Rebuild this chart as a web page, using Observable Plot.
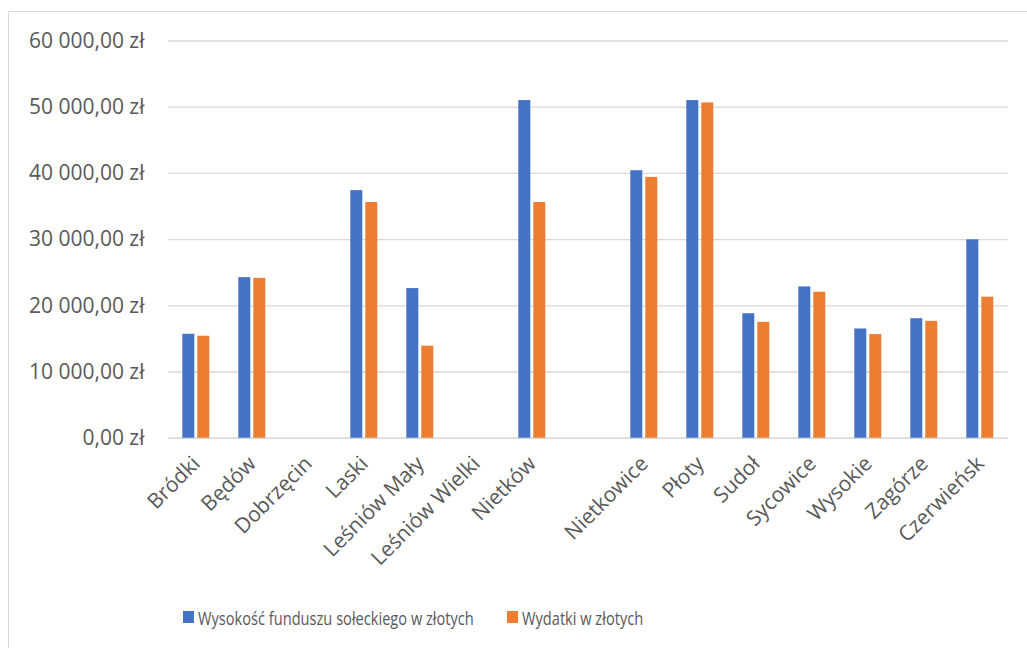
<!DOCTYPE html>
<html><head><meta charset="utf-8">
<script src="https://cdn.jsdelivr.net/npm/d3@7"></script>
<script src="https://cdn.jsdelivr.net/npm/@observablehq/plot@0.6"></script>
<style>
body{margin:0;background:#fff;}
#wrap{position:relative;width:1027px;height:648px;overflow:hidden;font-family:"Open Sans",sans-serif;background:#fff}
#frame{position:absolute;left:8px;top:11px;width:1060px;height:700px;border:1.5px solid #d9d9d9;box-sizing:border-box}
#chart{position:absolute;left:0;top:0}
#legend{position:absolute;top:604px;left:0;height:26px;width:1027px;color:#595959;font-size:18.5px;}
.item{position:absolute;top:0;display:flex;align-items:center;height:26px;white-space:nowrap}
.sw{width:11px;height:12px;margin-right:4px;display:inline-block;flex:none}
.lt{display:inline-block;transform-origin:0 50%;transform:scaleX(0.79)}
</style>
</head><body>
<div id="wrap"><div id="frame"></div><div id="chart"></div><div id="legend"></div></div>
<script>
const categories = ["Bródki","Będów","Dobrzęcin","Laski","Leśniów Mały","Leśniów Wielki","Nietków"," ","Nietkowice","Płoty","Sudoł","Sycowice","Wysokie","Zagórze","Czerwieńsk"];
const fundusz = [15700,24250,0,37400,22600,0,51000,0,40400,51000,18800,22850,16500,18050,29970];
const wydatki = [15400,24150,0,35600,13900,0,35600,0,39400,50650,17500,22050,15650,17650,21300];
const seriesNames = ["Wysokość funduszu sołeckiego w złotych","Wydatki w złotych"];
const seriesColors = ["#4472C4","#ED7D31"];
const yTicks = [0,10000,20000,30000,40000,50000,60000];

const data = categories.flatMap((c,i)=>[
  {category:c, series:seriesNames[0], value:fundusz[i]},
  {category:c, series:seriesNames[1], value:wydatki[i]}
]);
const loc = d3.formatLocale({decimal:",", thousands:"\u00a0", grouping:[3], currency:["","\u00a0zł"]});
const fmt = loc.format("$,.2f");

const chart = Plot.plot({
  width:1027, height:590,
  marginLeft:165.7, marginRight:16, marginTop:40.5, marginBottom:152.3,
  style:{fontFamily:"Open Sans, sans-serif", fontSize:"21px", color:"#595959", background:"transparent", overflow:"visible"},
  fx:{domain:categories, padding:0, label:null, tickRotate:-45, tickSize:0, tickPadding:22},
  x:{domain:seriesNames, paddingInner:0.19, paddingOuter:0.89, axis:null},
  y:{domain:[0,60000], ticks:yTicks, tickFormat:fmt, label:null, tickSize:0, tickPadding:24},
  color:{domain:seriesNames, range:seriesColors},
  marks:[
    Plot.gridY(yTicks,{stroke:"#d9d9d9", strokeOpacity:1, strokeWidth:1.3}),
    Plot.ruleY([0],{stroke:"#d9d9d9", strokeWidth:1.6}),
    Plot.barY(data,{fx:"category", x:"series", y:"value", fill:"series"})
  ]
});
document.getElementById("chart").appendChild(chart);

const legend = document.getElementById("legend");
const lx = [183, 507];
seriesNames.forEach((s,i)=>{
  const it = document.createElement("div");
  it.className="item"; it.style.left = lx[i]+"px";
  it.innerHTML = `<span class="sw" style="background:${seriesColors[i]}"></span><span class="lt">${s}</span>`;
  legend.appendChild(it);
});
</script>
</body></html>
